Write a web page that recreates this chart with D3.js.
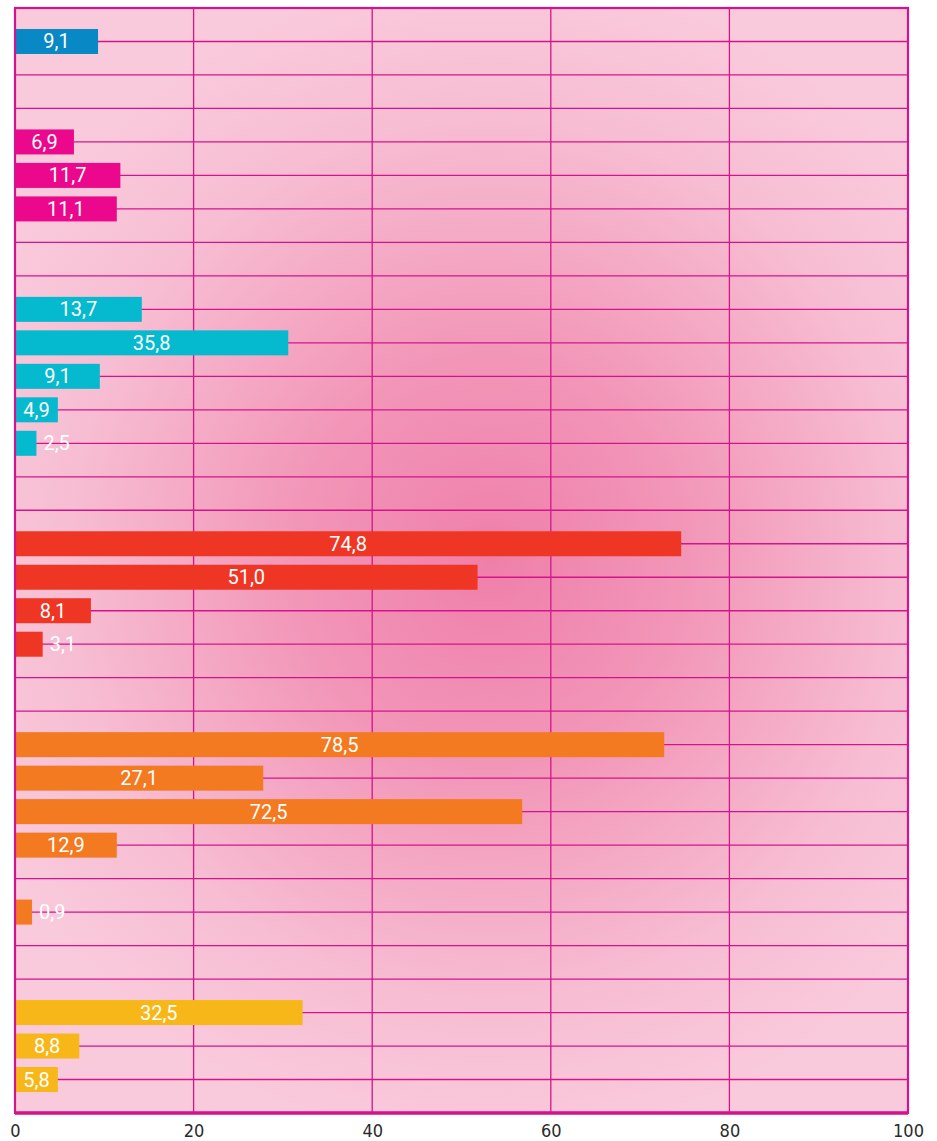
<!DOCTYPE html>
<html>
<head>
<meta charset="utf-8">
<script src="https://cdn.jsdelivr.net/npm/d3@7"></script>
<style>
  html, body { margin: 0; padding: 0; background: #ffffff; }
  svg { display: block; }
</style>
</head>
<body>
<svg id="chart" width="937" height="1141"></svg>
<script>
// ---- data ----
const slots = ["1","2","3","4","5","6","7","8","9","10","11","12","13","14","15","16",
               "17","18","19","20","21","22","23","24","25","26","27","28","29","30","31","32"];
const groups = ["blue","","","magenta","magenta","magenta","","",
                "cyan","cyan","cyan","cyan","cyan","","",
                "red","red","red","red","","",
                "orange","orange","orange","orange","","orange","","",
                "yellow","yellow","yellow"];
// bar lengths as drawn in the picture
const barValues = [9.3,null,null,6.6,11.8,11.4,null,null,
                   14.2,30.6,9.5,4.8,2.4,null,null,
                   74.6,51.8,8.5,3.1,null,null,
                   72.7,27.8,56.8,11.4,null,1.9,null,null,
                   32.2,7.2,4.8];
// printed labels
const labelTexts = ["9,1","","","6,9","11,7","11,1","","",
                    "13,7","35,8","9,1","4,9","2,5","","",
                    "74,8","51,0","8,1","3,1","","",
                    "78,5","27,1","72,5","12,9","","0,9","","",
                    "32,5","8,8","5,8"];
const xTicks = [0, 20, 40, 60, 80, 100];
const groupColors = {blue:"#0888c4", magenta:"#ec088c", cyan:"#05b9cf", red:"#ef3624", orange:"#f37a21", yellow:"#f8b718"};

// ---- layout ----
const svg = d3.select("#chart");
const pLeft = 15, pRight = 908, pTop = 8, pBottom = 1113;
const x = d3.scaleLinear().domain([0, 100]).range([pLeft, pRight]);
const y = d3.scalePoint().domain(slots).range([pTop, pBottom]).padding(1);
const barH = 25;
const gridColor = "#d4148c";

const defs = svg.append("defs");
const grad = defs.append("radialGradient").attr("id", "bg")
  .attr("gradientUnits", "userSpaceOnUse")
  .attr("cx", 490).attr("cy", 560).attr("r", 560)
  .attr("gradientTransform", "translate(490,560) scale(1,1.05) translate(-490,-560)");
grad.append("stop").attr("offset", 0).attr("stop-color", "#ef7fa9");
grad.append("stop").attr("offset", 0.35).attr("stop-color", "#f296b8");
grad.append("stop").attr("offset", 0.75).attr("stop-color", "#f7bdd2");
grad.append("stop").attr("offset", 1).attr("stop-color", "#f9cadb");

svg.append("rect").attr("x", pLeft).attr("y", pTop)
  .attr("width", pRight - pLeft).attr("height", pBottom - pTop)
  .attr("fill", "url(#bg)");

// horizontal grid lines
svg.append("g").selectAll("line").data(slots).join("line")
  .attr("x1", pLeft).attr("x2", pRight)
  .attr("y1", d => y(d)).attr("y2", d => y(d))
  .attr("stroke", gridColor).attr("stroke-width", 1.3);

// vertical grid lines
svg.append("g").selectAll("line").data(xTicks.slice(1, -1)).join("line")
  .attr("x1", d => x(d)).attr("x2", d => x(d))
  .attr("y1", pTop).attr("y2", pBottom)
  .attr("stroke", gridColor).attr("stroke-width", 1.3);

const data = slots.map((s, i) => ({slot: s, group: groups[i], v: barValues[i], label: labelTexts[i]}))
  .filter(d => d.v != null);

// bars
svg.append("g").selectAll("rect").data(data).join("rect")
  .attr("x", x(0) + 1)
  .attr("y", d => y(d.slot) - barH / 2)
  .attr("width", d => x(d.v) - x(0) - 1)
  .attr("height", barH)
  .attr("fill", d => groupColors[d.group]);

// labels
const inside = d => (x(d.v) - x(0) > 40);
svg.append("g").selectAll("text").data(data).join("text")
  .attr("x", d => inside(d) ? (x(0) + x(d.v)) / 2 : x(d.v) + 7)
  .attr("y", d => y(d.slot) + 7)
  .attr("text-anchor", d => inside(d) ? "middle" : "start")
  .attr("font-family", "Roboto, 'Noto Sans', sans-serif")
  .attr("font-size", 20)
  .attr("fill", "#ffffff")
  .text(d => d.label);

// border
svg.append("rect").attr("x", pLeft).attr("y", pTop)
  .attr("width", pRight - pLeft).attr("height", pBottom - pTop)
  .attr("fill", "none").attr("stroke", gridColor).attr("stroke-width", 2.2);
svg.append("line").attr("x1", pLeft).attr("x2", pRight)
  .attr("y1", pBottom).attr("y2", pBottom)
  .attr("stroke", gridColor).attr("stroke-width", 3.5);

// x axis labels
const axis = d3.axisBottom(x).tickValues(xTicks).tickSize(0).tickPadding(10).tickFormat(d3.format("d"));
const ax = svg.append("g").attr("transform", `translate(0,${pBottom + 1})`).call(axis);
ax.select(".domain").remove();
ax.selectAll("text")
  .attr("font-family", "'DejaVu Sans Condensed', 'DejaVu Sans', sans-serif")
  .style("font-stretch", "condensed")
  .attr("font-size", 18)
  .attr("fill", "#2a2a2a");
</script>
</body>
</html>
